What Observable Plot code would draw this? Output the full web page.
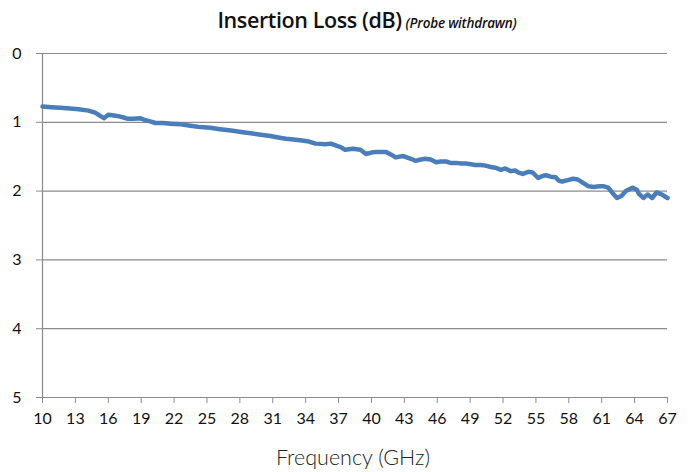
<!DOCTYPE html>
<html><head><meta charset="utf-8">
<script src="https://cdn.jsdelivr.net/npm/d3@7"></script>
<script src="https://cdn.jsdelivr.net/npm/@observablehq/plot@0.6"></script>
<style>
body{margin:0;background:#fff;}
#wrap{width:695px;height:472px;position:relative;overflow:hidden;}
#title{height:40px;line-height:40px;box-sizing:border-box;padding-left:39px;text-align:center;white-space:nowrap;color:#111;}
#title .main{font-family:"Open Sans",sans-serif;font-weight:600;font-size:21.5px;letter-spacing:-0.4px;}
#title .sub{font-family:"Open Sans",sans-serif;font-weight:600;font-style:italic;font-size:13.5px;letter-spacing:-0.2px;}
#xlabel{height:29px;line-height:29px;box-sizing:border-box;padding-left:11px;text-align:center;font-family:Lato,sans-serif;font-weight:300;font-size:21.5px;color:#222;}
</style></head>
<body>
<div id="wrap">
<div id="title"><span class="main">Insertion Loss (dB)</span> <span class="sub">(Probe withdrawn)</span></div>
<div id="chart"></div>
<div id="xlabel">Frequency (GHz)</div>
</div>
<script>
const freqs = [10.0,10.8,11.6,12.5,13.3,14.2,14.8,15.3,15.6,16.0,16.5,16.9,17.4,17.8,18.3,18.9,19.4,19.9,20.3,21.0,21.7,22.6,23.5,24.4,25.3,26.2,27.2,28.1,29.0,29.9,30.8,31.5,32.2,32.9,33.5,34.3,34.9,35.8,36.3,36.8,37.2,37.6,38.3,39.0,39.5,40.0,40.4,41.3,41.8,42.2,42.9,43.6,44.0,44.5,44.9,45.4,45.9,46.3,46.8,47.2,47.7,48.2,48.6,49.05,49.5,49.96,50.4,50.9,51.3,51.8,52.2,52.7,53.1,53.4,53.8,54.3,54.7,55.2,55.6,55.9,56.35,56.8,57.1,57.4,57.9,58.4,58.8,59.3,59.8,60.3,60.8,61.2,61.6,62.0,62.4,62.8,63.2,63.8,64.2,64.4,64.8,65.2,65.6,66.0,66.5,67.0];
const loss = [0.77,0.78,0.79,0.80,0.81,0.83,0.86,0.91,0.94,0.89,0.90,0.91,0.93,0.95,0.95,0.94,0.97,0.99,1.01,1.01,1.02,1.03,1.05,1.07,1.08,1.10,1.12,1.14,1.16,1.18,1.20,1.22,1.24,1.25,1.26,1.28,1.31,1.32,1.31,1.34,1.36,1.40,1.385,1.40,1.46,1.44,1.43,1.43,1.47,1.51,1.49,1.53,1.56,1.54,1.53,1.54,1.58,1.57,1.57,1.59,1.59,1.60,1.60,1.61,1.62,1.62,1.63,1.65,1.66,1.69,1.67,1.71,1.70,1.73,1.75,1.72,1.73,1.81,1.78,1.77,1.79,1.80,1.85,1.86,1.84,1.82,1.83,1.88,1.93,1.94,1.93,1.93,1.95,2.03,2.10,2.07,2.00,1.95,1.98,2.04,2.10,2.05,2.10,2.02,2.05,2.10];
const xTicks = [10,13,16,19,22,25,28,31,34,37,40,43,46,49,52,55,58,61,64,67];
const yTicks = [0,1,2,3,4,5];

const data = freqs.map((f, i) => ({f, v: loss[i]}));
const gray = "#8c8c8c";

const chart = Plot.plot({
  width: 695,
  height: 403,
  marginLeft: 42,
  marginRight: 28,
  marginTop: 13,
  marginBottom: 46,
  style: {fontFamily: "Lato, sans-serif", fontSize: "16px", color: "#111", background: "#fff"},
  x: {domain: [10, 67]},
  y: {domain: [0, 5], reverse: true},
  marks: [
    Plot.ruleY(yTicks, {stroke: gray, strokeWidth: 1.2, strokeOpacity: 1}),
    Plot.ruleX([10], {stroke: gray, strokeWidth: 1.2}),
    Plot.axisY({ticks: yTicks, tickSize: 6, tickPadding: 15, stroke: gray, strokeOpacity: 1, label: null, fontSize: 16, tickFormat: d => d}),
    Plot.axisX({ticks: xTicks, tickSize: 6, tickPadding: 9, stroke: gray, strokeOpacity: 1, label: null, fontSize: 16, tickFormat: d => d}),
    Plot.line(data, {x: "f", y: "v", stroke: "#4a7ebb", strokeWidth: 4.5, strokeLinejoin: "round", curve: "linear"})
  ]
});
document.getElementById("chart").appendChild(chart);
</script>
</body></html>
